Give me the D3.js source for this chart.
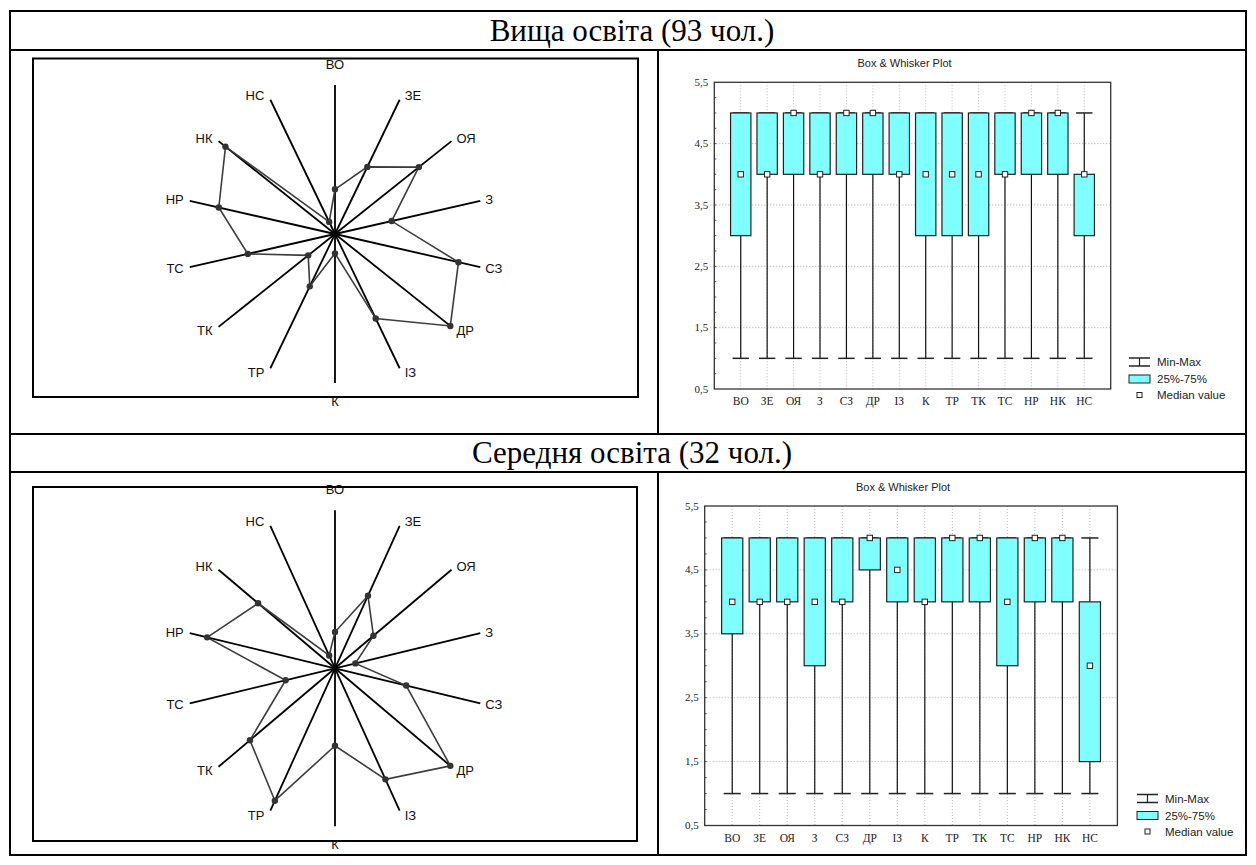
<!DOCTYPE html>
<html>
<head>
<meta charset="utf-8">
<script src="https://cdn.jsdelivr.net/npm/d3@7"></script>
<style>
body { margin: 0; background: #fff; }
svg { display: block; }
</style>
</head>
<body>
<div id="canvas-container"></div>
<script>
// scales / categories
var axes = ["ВО", "ЗЕ", "ОЯ", "З", "СЗ", "ДР", "ІЗ", "К", "ТР", "ТК", "ТС", "НР", "НК", "НС"];
var rowTitles = ["Вища освіта (93 чол.)", "Середня освіта (32 чол.)"];
var yTicks = [0.5, 1.5, 2.5, 3.5, 4.5, 5.5];
var legendLabels = ["Min-Max", "25%-75%", "Median value"];

// radar values, % of axis length
var radarHigher    = [30, 50, 72, 39, 85, 99, 63, 13, 39, 23, 60, 80, 94, 9];
var radarSecondary = [23, 51, 33, 14, 49, 99, 78, 49, 93, 73, 34, 88, 66, 9];

// box & whisker, higher education
var higherMin = [1, 1, 1, 1, 1, 1, 1, 1, 1, 1, 1, 1, 1, 1];
var higherQ1  = [3, 4, 4, 4, 4, 4, 4, 3, 3, 3, 4, 4, 4, 3];
var higherMed = [4, 4, 5, 4, 5, 5, 4, 4, 4, 4, 4, 5, 5, 4];
var higherQ3  = [5, 5, 5, 5, 5, 5, 5, 5, 5, 5, 5, 5, 5, 4];
var higherMax = [5, 5, 5, 5, 5, 5, 5, 5, 5, 5, 5, 5, 5, 5];

// box & whisker, secondary education
var secondaryMin = [1, 1, 1, 1, 1, 1, 1, 1, 1, 1, 1, 1, 1, 1];
var secondaryQ1  = [3.5, 4, 4, 3, 4, 4.5, 4, 4, 4, 4, 3, 4, 4, 1.5];
var secondaryMed = [4, 4, 4, 4, 4, 5, 4.5, 4, 5, 5, 4, 5, 5, 3];
var secondaryQ3  = [5, 5, 5, 5, 5, 5, 5, 5, 5, 5, 5, 5, 5, 4];
var secondaryMax = [5, 5, 5, 5, 5, 5, 5, 5, 5, 5, 5, 5, 5, 5];

var W = 1256, H = 865;

var svg = d3.select("#canvas-container").append("svg")
    .attr("width", W)
    .attr("height", H);

function stats(mn, q1, md, q3, mx) {
    return axes.map(function (a, i) {
        return { key: a, min: mn[i], q1: q1[i], med: md[i], q3: q3[i], max: mx[i] };
    });
}

var panels = [
    {
        title: rowTitles[0], titleY: 41,
        radar: { x0: 33, y0: 58.5, x1: 638, y1: 397, cx: 335, cy: 234, rx: 149, ry: 149, values: radarHigher },
        box: { left: 714.3, right: 1110.7, top: 82.3, bottom: 389, legendX: 1129,
               data: stats(higherMin, higherQ1, higherMed, higherQ3, higherMax) }
    },
    {
        title: rowTitles[1], titleY: 463,
        radar: { x0: 33, y0: 487, x1: 637, y1: 841, cx: 335, cy: 668.3, rx: 149, ry: 158, values: radarSecondary },
        box: { left: 704.7, right: 1117.4, top: 506, bottom: 825.5, legendX: 1137,
               data: stats(secondaryMin, secondaryQ1, secondaryMed, secondaryQ3, secondaryMax) }
    }
];

// ---- table frame ----
var table = svg.append("g").attr("class", "table");
table.append("rect")
    .attr("x", 10).attr("y", 11)
    .attr("width", 1236).attr("height", 844)
    .attr("fill", "none").attr("stroke", "#000").attr("stroke-width", 2);
[50, 434, 472].forEach(function (y) {
    table.append("line")
        .attr("x1", 10).attr("x2", 1246).attr("y1", y).attr("y2", y)
        .attr("stroke", "#000").attr("stroke-width", 2);
});
[[50, 434], [472, 855]].forEach(function (s) {
    table.append("line")
        .attr("x1", 658).attr("x2", 658).attr("y1", s[0]).attr("y2", s[1])
        .attr("stroke", "#000").attr("stroke-width", 2);
});

panels.forEach(function (p) {
    svg.append("text")
        .attr("x", 632).attr("y", p.titleY)
        .attr("text-anchor", "middle")
        .style("font-family", "'Liberation Serif', 'Times New Roman', serif")
        .style("font-size", "31px")
        .text(p.title);
    drawRadar(p.radar);
    drawBox(p.box);
});

function drawRadar(c) {
    var g = svg.append("g").attr("class", "radar");
    var r = d3.scaleLinear().domain([0, 100]).range([0, 1]);
    var n = axes.length;
    var ang = function (i) { return i * 2 * Math.PI / n; };
    var px = function (i, v) { return c.cx + c.rx * r(v) * Math.sin(ang(i)); };
    var py = function (i, v) { return c.cy - c.ry * r(v) * Math.cos(ang(i)); };

    g.append("rect")
        .attr("x", c.x0).attr("y", c.y0)
        .attr("width", c.x1 - c.x0).attr("height", c.y1 - c.y0)
        .attr("fill", "#fff").attr("stroke", "#000").attr("stroke-width", 2);

    g.selectAll("line.spoke").data(axes).enter().append("line")
        .attr("class", "spoke")
        .attr("x1", c.cx).attr("y1", c.cy)
        .attr("x2", function (d, i) { return px(i, 100); })
        .attr("y2", function (d, i) { return py(i, 100); })
        .attr("stroke", "#000").attr("stroke-width", 1.8);

    g.selectAll("text.lab").data(axes).enter().append("text")
        .attr("class", "lab")
        .attr("x", function (d, i) {
            var s = Math.sin(ang(i));
            if (Math.abs(s) < 0.01) return px(i, 100);
            return px(i, 100) + (s > 0 ? 5 : -6);
        })
        .attr("y", function (d, i) {
            var co = Math.cos(ang(i));
            if (Math.abs(Math.sin(ang(i))) < 0.01) return py(i, 100) + (co > 0 ? -21 : 18);
            return py(i, 100) - co * 5;
        })
        .attr("dy", "0.36em")
        .attr("text-anchor", function (d, i) {
            var s = Math.sin(ang(i));
            if (Math.abs(s) < 0.01) return "middle";
            return s > 0 ? "start" : "end";
        })
        .style("font-family", "'Liberation Sans', Arial, sans-serif")
        .style("font-size", "13px")
        .attr("fill", "#111")
        .text(function (d) { return d; });

    var line = d3.line()
        .x(function (d, i) { return px(i, d); })
        .y(function (d, i) { return py(i, d); })
        .curve(d3.curveLinearClosed);

    g.append("path")
        .attr("d", line(c.values))
        .attr("fill", "none")
        .attr("stroke", "#3c3c3c").attr("stroke-width", 1.6);

    g.selectAll("circle").data(c.values).enter().append("circle")
        .attr("cx", function (d, i) { return px(i, d); })
        .attr("cy", function (d, i) { return py(i, d); })
        .attr("r", 3.2)
        .attr("fill", "#333");
}

function drawBox(b) {
    var g = svg.append("g").attr("class", "boxplot");
    var x = d3.scalePoint().domain(axes).range([b.left, b.right]).padding(1);
    var y = d3.scaleLinear().domain([0.5, 5.5]).range([b.bottom, b.top]);
    var bw = x.step() * 0.77;
    var cw = x.step() * 0.62;
    var fmt = function (v) { return d3.format(".1f")(v).replace(".", ","); };

    g.append("text")
        .attr("x", (b.left + b.right) / 2 - 8).attr("y", b.top - 15)
        .attr("text-anchor", "middle")
        .style("font-family", "'Liberation Sans', Arial, sans-serif")
        .style("font-size", "11px")
        .attr("fill", "#222")
        .text("Box & Whisker Plot");

    // grid
    g.selectAll("line.hgrid").data(yTicks.slice(1, -1)).enter().append("line")
        .attr("class", "hgrid")
        .attr("x1", b.left - 4).attr("x2", b.right)
        .attr("y1", function (d) { return y(d); }).attr("y2", function (d) { return y(d); })
        .attr("stroke", "#aaa").attr("stroke-width", 1).attr("stroke-dasharray", "1,2");
    g.selectAll("line.vgrid").data(axes).enter().append("line")
        .attr("class", "vgrid")
        .attr("x1", function (d) { return x(d); }).attr("x2", function (d) { return x(d); })
        .attr("y1", b.top).attr("y2", b.bottom)
        .attr("stroke", "#bbb").attr("stroke-width", 1).attr("stroke-dasharray", "1,2");

    // minor ticks
    var minor = d3.range(0.75, 5.5, 0.25);
    g.selectAll("line.minor").data(minor).enter().append("line")
        .attr("class", "minor")
        .attr("x1", b.left).attr("x2", b.left + 2)
        .attr("y1", function (d) { return y(d); }).attr("y2", function (d) { return y(d); })
        .attr("stroke", "#555").attr("stroke-width", 1);

    g.append("rect")
        .attr("x", b.left).attr("y", b.top)
        .attr("width", b.right - b.left).attr("height", b.bottom - b.top)
        .attr("fill", "none").attr("stroke", "#333").attr("stroke-width", 1.3);

    g.selectAll("text.ytick").data(yTicks).enter().append("text")
        .attr("class", "ytick")
        .attr("x", b.left - 6)
        .attr("y", function (d) { return y(d); })
        .attr("dy", "0.32em")
        .attr("text-anchor", "end")
        .style("font-family", "'Liberation Serif', 'Times New Roman', serif")
        .style("font-size", "11px")
        .attr("fill", "#222")
        .text(fmt);

    g.selectAll("text.xtick").data(axes).enter().append("text")
        .attr("class", "xtick")
        .attr("x", function (d) { return x(d); })
        .attr("y", b.bottom + 16)
        .attr("text-anchor", "middle")
        .style("font-family", "'Liberation Serif', 'Times New Roman', serif")
        .style("font-size", "11.5px")
        .attr("fill", "#222")
        .text(function (d) { return d; });

    var items = g.selectAll("g.item").data(b.data).enter().append("g").attr("class", "item");

    items.append("line")
        .attr("x1", function (d) { return x(d.key); }).attr("x2", function (d) { return x(d.key); })
        .attr("y1", function (d) { return y(d.min); }).attr("y2", function (d) { return y(d.max); })
        .attr("stroke", "#111").attr("stroke-width", 1.2);
    ["min", "max"].forEach(function (k) {
        items.append("line")
            .attr("x1", function (d) { return x(d.key) - cw / 2; })
            .attr("x2", function (d) { return x(d.key) + cw / 2; })
            .attr("y1", function (d) { return y(d[k]); }).attr("y2", function (d) { return y(d[k]); })
            .attr("stroke", "#222").attr("stroke-width", 1.5);
    });
    items.append("rect")
        .attr("x", function (d) { return x(d.key) - bw / 2; })
        .attr("y", function (d) { return y(d.q3); })
        .attr("width", bw)
        .attr("height", function (d) { return y(d.q1) - y(d.q3); })
        .attr("fill", "#80ffff").attr("stroke", "#222").attr("stroke-width", 1.2);
    items.append("rect")
        .attr("x", function (d) { return x(d.key) - 2.7; })
        .attr("y", function (d) { return y(d.med) - 2.7; })
        .attr("width", 5.4).attr("height", 5.4)
        .attr("fill", "#fff").attr("stroke", "#222").attr("stroke-width", 1);

    // legend
    var lx = b.legendX, lw = 21;
    var ly = [b.bottom - 27, b.bottom - 10, b.bottom + 6];
    var lg = g.append("g").attr("class", "legend");
    lg.append("line").attr("x1", lx).attr("x2", lx + lw).attr("y1", ly[0] - 4).attr("y2", ly[0] - 4)
        .attr("stroke", "#222").attr("stroke-width", 1.5);
    lg.append("line").attr("x1", lx).attr("x2", lx + lw).attr("y1", ly[0] + 4).attr("y2", ly[0] + 4)
        .attr("stroke", "#222").attr("stroke-width", 1.5);
    lg.append("line").attr("x1", lx + lw / 2).attr("x2", lx + lw / 2).attr("y1", ly[0] - 4).attr("y2", ly[0] + 4)
        .attr("stroke", "#222").attr("stroke-width", 1.2);
    lg.append("rect").attr("x", lx).attr("y", ly[1] - 4).attr("width", lw).attr("height", 8)
        .attr("fill", "#80ffff").attr("stroke", "#222").attr("stroke-width", 1);
    lg.append("rect").attr("x", lx + lw / 2 - 2.5).attr("y", ly[2] - 2.5).attr("width", 5).attr("height", 5)
        .attr("fill", "#fff").attr("stroke", "#222").attr("stroke-width", 1);
    lg.selectAll("text").data(legendLabels).enter().append("text")
        .attr("x", lx + 28)
        .attr("y", function (d, i) { return ly[i]; })
        .attr("dy", "0.35em")
        .style("font-family", "'Liberation Sans', Arial, sans-serif")
        .style("font-size", "11.5px")
        .attr("fill", "#222")
        .text(function (d) { return d; });
}
</script>
</body>
</html>
